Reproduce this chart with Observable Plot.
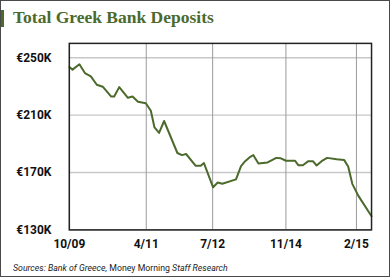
<!DOCTYPE html>
<html>
<head>
<meta charset="utf-8">
<script src="https://cdn.jsdelivr.net/npm/d3@7"></script>
<script src="https://cdn.jsdelivr.net/npm/@observablehq/plot@0.6"></script>
<style>
  html, body { margin: 0; padding: 0; background: #fff; }
  #card { position: relative; width: 390px; height: 277px; box-sizing: border-box; border: 1px solid #4a4a4a; overflow: hidden; background: #fff; }
  #chart { position: absolute; left: -1px; top: -1px; }
  #bar { position: absolute; left: -1px; top: 9px; width: 4px; height: 17px; background: #4b6a2c; }
  #title { position: absolute; left: 12px; top: 7.5px; font-family: "Liberation Serif", serif; font-weight: bold; font-size: 17.5px; line-height: 17.5px; color: #4b6a2c; white-space: nowrap; }
  #caption { position: absolute; left: 12px; top: 262px; font-family: Roboto, sans-serif; font-size: 8.75px; line-height: 10px; color: #222; white-space: nowrap; }
  #caption i { font-style: italic; }
</style>
</head>
<body>
<div id="card">
  <div id="chart"></div>
  <div id="bar"></div>
  <div id="title">Total Greek Bank Deposits</div>
  <div id="caption"><i>Sources: Bank of Greece,</i> Money Morning <i>Staff Research</i></div>
</div>
<script>
// months since October 2009 (as positioned on the chart) and deposits in € thousands (K)
const months = [0, 0.7, 2.2, 3.4, 4.7, 6.0, 7.3, 9.1, 9.8, 10.9, 12.8, 13.8, 15.0, 16.7, 17.8, 18.6, 19.6, 20.7,
  23.6, 24.6, 25.5, 27.6, 28.7, 29.4, 31.4, 32.4, 33.4, 36.4, 37.5, 38.4, 39.4, 40.2, 41.3, 43.3, 45.2, 46.1,
  47.3, 49.3, 50.0, 51.0, 52.2, 53.2, 54.0, 55.1, 56.3, 58.4, 60.0, 60.9, 61.8, 63.1, 66.0];
const deposits = [243.5, 241.7, 245.4, 239.3, 237.0, 231.2, 229.8, 223.0, 223.0, 229.5, 222.1, 223.0, 219.3, 218.3, 213.0, 201.4, 197.6, 205.9,
  183.6, 182.1, 182.9, 174.7, 174.7, 176.6, 159.7, 163.0, 162.2, 165.2, 174.5, 177.9, 180.7, 182.1, 176.3, 177.0, 180.2, 180.0,
  178.2, 178.2, 175.1, 175.1, 177.9, 177.9, 174.9, 177.9, 180.2, 179.3, 178.8, 174.2, 162.1, 153.9, 139.5];
const xTickPos = [0, 16.8, 31.3, 47.3, 62.7];
const xTickLabels = ["10/09", "4/11", "7/12", "11/14", "2/15"];
const yTicks = [130, 170, 210, 250];

const data = months.map((m, i) => ({m, v: deposits[i]}));
const xLabel = new Map(xTickPos.map((p, i) => [p, xTickLabels[i]]));

const chart = Plot.plot({
  width: 390,
  height: 277,
  marginLeft: 69,
  marginRight: 18,
  marginTop: 43,
  marginBottom: 47,
  style: {fontFamily: "Roboto, sans-serif", fontSize: "12px", fontWeight: "bold", color: "#111", background: "transparent"},
  x: {domain: [0, 66], label: null},
  y: {domain: [130, 260], label: null},
  marks: [
    Plot.gridY(yTicks, {stroke: "#c8c8c8", strokeOpacity: 1, strokeWidth: 1.5}),
    Plot.gridX(xTickPos, {stroke: "#9a9a9a", strokeOpacity: 1, strokeWidth: 1}),
    Plot.line(data, {x: "m", y: "v", stroke: "#4b6a2c", strokeWidth: 2}),
    Plot.frame({stroke: "#222", strokeWidth: 1.5}),
    Plot.axisY(yTicks, {tickSize: 0, tickPadding: 18, label: null, tickFormat: d => `€${d}K`}),
    Plot.axisX(xTickPos, {tickSize: 0, tickPadding: 10, label: null, tickFormat: d => xLabel.get(d)})
  ]
});
document.getElementById("chart").appendChild(chart);
</script>
</body>
</html>
